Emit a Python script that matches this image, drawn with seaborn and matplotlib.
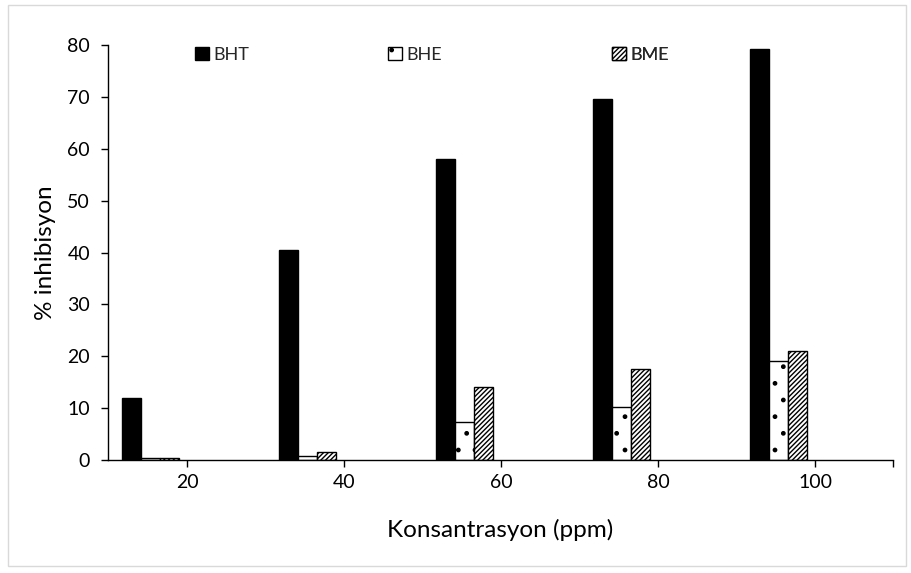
import matplotlib
matplotlib.use("Agg")
import matplotlib.pyplot as plt
import seaborn as sns
import pandas as pd
from matplotlib.patches import Patch, Rectangle

concentrations = ["20", "40", "60", "80", "100"]
series = ["BHT", "BHE", "BME"]
bht = [11.9, 40.5, 58.0, 69.5, 79.2]
bhe = [0.4, 0.8, 7.3, 10.3, 19.0]
bme = [0.3, 1.6, 14.0, 17.6, 21.0]

df = pd.DataFrame({
    "conc": concentrations * 3,
    "series": [s for s in series for _ in concentrations],
    "val": bht + bhe + bme,
})

sns.set_theme(style="white")
plt.rcParams["font.family"] = ["Lato", "DejaVu Sans"]
plt.rcParams["hatch.linewidth"] = 1.0

W, H = 912, 573
fig = plt.figure(figsize=(W / 100, H / 100), dpi=100)
ax = fig.add_axes([108 / W, 1 - 460 / H, (893 - 108) / W, (460 - 45) / H])

sns.barplot(data=df, x="conc", y="val", hue="series", order=concentrations,
            hue_order=series, width=0.365, dodge=True, ax=ax,
            palette=["black", "white", "white"], edgecolor="black",
            linewidth=1.0, legend=False, errorbar=None, saturation=1)

styles = {
    "BHT": dict(facecolor="black", hatch=None),
    "BHE": dict(facecolor="white", hatch="."),
    "BME": dict(facecolor="white", hatch="///////"),
}
for cont, s in zip(ax.containers, series):
    for p in cont:
        p.set_facecolor(styles[s]["facecolor"])
        p.set_edgecolor("black")
        if styles[s]["hatch"]:
            p.set_hatch(styles[s]["hatch"])

off = 0.234
left, right = off - 0.503, len(concentrations) - 1 + off + 0.497
ax.set_xlim(left, right)
ax.set_ylim(0, 80)
ax.set_xticks([i + off for i in range(len(concentrations))] + [right])
ax.set_xticklabels(concentrations + [""])
ax.set_yticks(range(0, 81, 10))

for side in ["top", "right"]:
    ax.spines[side].set_visible(False)
for side in ["left", "bottom"]:
    ax.spines[side].set_color("black")
    ax.spines[side].set_linewidth(1.0)
ax.tick_params(axis="both", direction="out", length=5, width=1.0,
               color="black", labelsize=14, labelcolor="black",
               bottom=True, left=True)
ax.tick_params(axis="x", pad=5)
ax.tick_params(axis="y", pad=8)

ax.set_xlabel("Konsantrasyon (ppm)", fontsize=17.5, color="black", labelpad=20)
ax.set_ylabel("% inhibisyon", fontsize=17.5, color="black", labelpad=8)

# separate legend entries at their positions
positions = [(195 - 108) / 785, (388 - 108) / 785, (612 - 108) / 785]
for s, xp in zip(series, positions):
    h = Patch(facecolor=styles[s]["facecolor"], edgecolor="black",
              hatch=styles[s]["hatch"], linewidth=1.0)
    leg = ax.legend([h], [s], loc="center left", bbox_to_anchor=(xp, (460 - 55) / 415),
                    frameon=False, fontsize=13, handlelength=0.75, handleheight=0.75,
                    handletextpad=0.25, borderpad=0, borderaxespad=0)
    ax.add_artist(leg)

fig.patches.append(Rectangle((8 / W, 1 - 566 / H), (906 - 8) / W, (566 - 5) / H,
                             transform=fig.transFigure, fill=False,
                             edgecolor="#d9d9d9", linewidth=1.0))

fig.savefig("out.png", dpi=100)
